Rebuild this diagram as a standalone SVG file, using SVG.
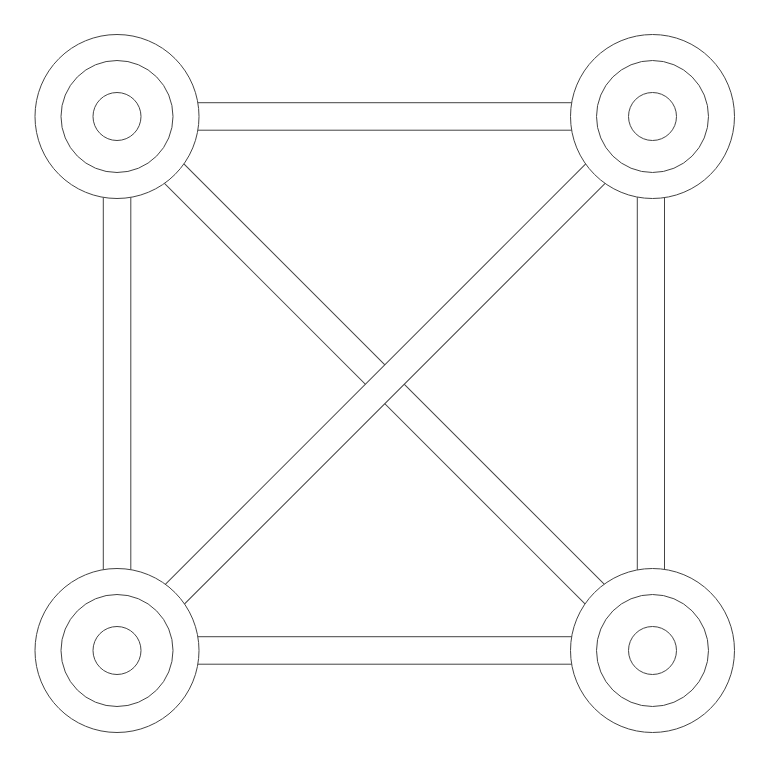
<svg xmlns="http://www.w3.org/2000/svg" width="770" height="768" viewBox="0 0 770 768">
<style>
.band{fill:#fff;stroke:#444;stroke-width:1}
.ring{fill:#fff;stroke:#444;stroke-width:1}
.ring2{fill:none;stroke:#444;stroke-width:1}
</style>
<rect width="770" height="768" fill="#fff"/>
<g id="connectors">
<rect class="band" x="117" y="102.7" width="535.5" height="27.5"/>
<rect class="band" x="103.3" y="116.5" width="27.5" height="534"/>
<rect class="band" x="637.3" y="116.5" width="27.2" height="534"/>
<rect class="band" x="117" y="636.7" width="535.5" height="27.5"/>
<rect class="band" x="0" y="-13.8" width="756" height="27.5" transform="translate(117 116.5) rotate(45)"/>
<rect class="band" x="0" y="-13.8" width="756" height="27.5" transform="translate(652.5 116.5) rotate(135)"/>
</g>
<g id="node-tl">
<circle class="ring" cx="117" cy="116.5" r="82"/>
<circle class="ring2" cx="117" cy="116.5" r="56"/>
<circle class="ring2" cx="117" cy="116.5" r="24"/>
</g>
<g id="node-tr">
<circle class="ring" cx="652.5" cy="116.5" r="82"/>
<circle class="ring2" cx="652.5" cy="116.5" r="56"/>
<circle class="ring2" cx="652.5" cy="116.5" r="24"/>
</g>
<g id="node-bl">
<circle class="ring" cx="117" cy="650.5" r="82"/>
<circle class="ring2" cx="117" cy="650.5" r="56"/>
<circle class="ring2" cx="117" cy="650.5" r="24"/>
</g>
<g id="node-br">
<circle class="ring" cx="652.5" cy="650.5" r="82"/>
<circle class="ring2" cx="652.5" cy="650.5" r="56"/>
<circle class="ring2" cx="652.5" cy="650.5" r="24"/>
</g>
</svg>
